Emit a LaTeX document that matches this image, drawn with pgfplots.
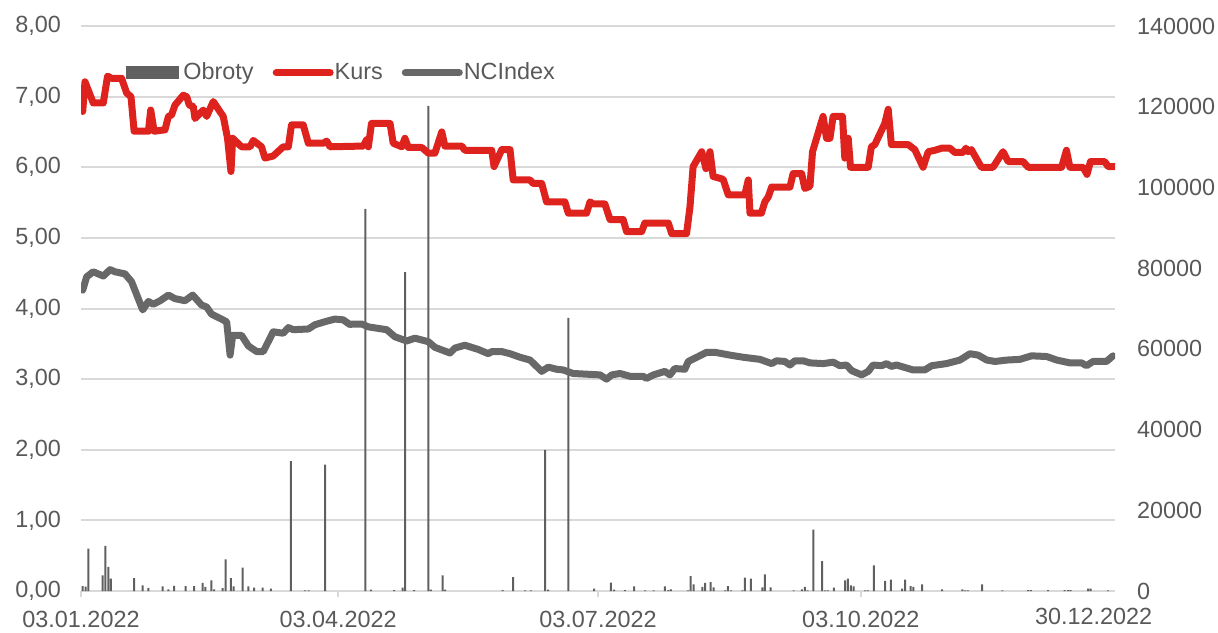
\documentclass[border=0pt]{standalone}
\usepackage{fontspec}
\setmainfont{Liberation Sans}
\usepackage{pgfplots}
\pgfplotsset{compat=1.18}
\usepackage{pgfplotstable}
\definecolor{kurs}{RGB}{222,34,30}
\definecolor{ncidx}{RGB}{104,104,104}
\definecolor{barc}{RGB}{96,96,96}
\definecolor{gridc}{RGB}{217,217,217}
\definecolor{txt}{RGB}{89,89,89}
\newcommand\lblfont{\fontsize{11.7}{14}\selectfont}

\pgfplotstableread{
d v
0.6 6.79
1.4 7.21
4.3 6.91
7.8 6.91
9.3 7.29
10.7 7.26
14.2 7.26
16.0 7.05
17.5 7.00
18.6 6.51
23.6 6.51
24.4 6.81
25.6 6.51
29.4 6.53
30.6 6.72
31.7 6.74
32.9 6.88
35.8 7.02
37.0 7.00
37.9 6.88
39.3 6.86
39.9 6.69
42.8 6.81
44.0 6.72
46.3 6.93
49.8 6.72
51.3 6.41
52.5 5.94
53.1 6.41
56.2 6.29
59.2 6.29
60.3 6.38
63.2 6.29
64.4 6.13
67.3 6.16
70.8 6.29
72.6 6.29
73.7 6.60
77.8 6.60
79.6 6.34
84.8 6.34
86.0 6.37
87.2 6.29
98.8 6.30
100.0 6.39
100.6 6.29
101.7 6.62
108.2 6.62
109.3 6.34
112.3 6.29
113.4 6.41
114.6 6.28
119.3 6.28
121.6 6.20
123.9 6.20
126.3 6.50
127.4 6.30
133.3 6.30
134.4 6.24
143.8 6.24
144.6 6.01
147.3 6.25
150.2 6.25
151.3 5.82
157.2 5.82
158.3 5.77
161.3 5.77
163.0 5.51
169.4 5.51
170.6 5.35
177.0 5.35
178.2 5.51
179.3 5.48
183.4 5.48
185.2 5.26
189.8 5.26
191.0 5.09
196.3 5.09
197.4 5.21
205.6 5.21
206.8 5.06
212.0 5.06
213.2 5.44
214.3 6.01
217.3 6.22
218.8 5.98
220.2 6.22
221.3 5.87
224.8 5.83
226.6 5.61
232.4 5.61
233.6 5.82
234.2 5.35
238.2 5.35
239.4 5.51
240.6 5.58
241.8 5.72
248.2 5.72
249.3 5.91
252.3 5.91
253.4 5.70
255.2 5.73
256.1 6.22
259.8 6.72
261.0 6.41
262.2 6.41
263.3 6.72
266.6 6.72
267.4 6.13
268.6 6.41
269.4 6.00
275.6 6.00
276.7 6.29
277.9 6.32
281.4 6.62
282.6 6.82
283.7 6.32
289.6 6.32
291.9 6.25
294.8 6.00
296.6 6.22
298.9 6.24
301.3 6.27
304.2 6.27
305.9 6.21
308.8 6.21
309.8 6.27
310.6 6.22
311.7 6.25
315.2 6.00
319.3 6.00
322.8 6.22
324.6 6.08
329.8 6.08
331.6 6.00
343.3 6.00
345.0 6.24
346.2 6.00
350.8 6.00
352.2 5.90
353.4 6.08
358.4 6.08
359.6 6.01
361.9 6.01
}\kursdata

\pgfplotstableread{
d v
0.6 4.26
2.0 4.45
4.3 4.52
7.8 4.46
10.2 4.55
11.9 4.52
15.4 4.49
17.7 4.38
21.6 3.98
23.6 4.10
25.3 4.06
27.7 4.11
30.6 4.19
32.9 4.14
36.4 4.11
39.1 4.19
42.2 4.05
44.0 4.02
45.7 3.92
49.2 3.85
51.0 3.81
52.2 3.34
53.1 3.62
56.2 3.62
58.6 3.47
61.5 3.39
63.8 3.39
67.3 3.67
70.8 3.65
72.6 3.73
74.3 3.70
79.6 3.71
81.9 3.77
86.0 3.82
88.9 3.85
91.8 3.84
94.2 3.77
94.8 3.78
98.3 3.78
100.6 3.74
107.0 3.70
109.9 3.60
114.0 3.54
116.9 3.58
121.6 3.53
123.9 3.45
129.2 3.37
130.9 3.44
134.4 3.48
139.1 3.42
142.6 3.36
143.8 3.39
147.3 3.39
150.2 3.36
153.7 3.31
157.2 3.27
161.3 3.11
163.6 3.17
166.5 3.14
168.8 3.13
172.3 3.08
177.0 3.07
181.7 3.06
184.0 3.00
185.8 3.06
188.7 3.08
192.2 3.04
196.8 3.04
198.0 3.01
200.4 3.06
204.4 3.11
206.2 3.06
207.9 3.15
211.4 3.14
212.6 3.25
216.1 3.32
219.0 3.38
221.9 3.38
227.2 3.34
231.8 3.31
237.7 3.28
241.8 3.22
243.5 3.26
246.4 3.25
248.2 3.20
249.9 3.26
252.8 3.26
255.2 3.23
259.8 3.22
263.3 3.24
265.7 3.19
268.0 3.20
269.8 3.12
273.3 3.06
275.6 3.11
277.3 3.20
280.3 3.19
282.0 3.22
283.7 3.18
285.5 3.20
291.3 3.13
295.4 3.13
297.8 3.19
303.0 3.22
307.7 3.27
311.2 3.36
314.1 3.34
317.1 3.27
320.0 3.25
324.1 3.27
328.7 3.28
332.8 3.33
338.1 3.32
341.6 3.27
346.2 3.23
350.3 3.23
352.0 3.19
354.3 3.25
359.0 3.25
361.3 3.33
}\ncidata

\pgfplotstableread{
d v
0.6 1200
1.6 1100
2.6 10500
7.6 3900
8.5 11200
9.6 5950
10.5 3060
18.6 3200
21.6 1400
23.6 750
28.6 1160
30.6 400
32.6 1300
36.6 1200
39.6 1200
42.6 2000
43.5 1000
45.6 2650
46.6 400
49.6 700
50.6 7850
52.5 3200
53.4 1150
56.6 5800
58.6 1150
60.6 830
63.6 830
66.5 580
73.5 32200
78.4 150
79.7 150
85.5 31300
99.6 94700
101.5 330
109.6 200
112.6 830
113.5 79000
116.6 200
121.6 120200
122.5 330
126.6 3900
127.5 330
147.6 200
151.3 3470
155.5 150
157.5 150
162.5 35000
163.5 330
170.6 67700
179.6 580
185.5 2070
186.6 330
190.4 200
193.6 1160
197.5 150
200.5 150
204.4 1160
205.6 200
206.5 420
212.5 150
213.4 3700
214.5 1650
217.5 1000
218.5 2000
220.4 2230
221.5 900
225.5 150
226.5 1240
227.5 150
231.5 150
232.4 3300
234.5 3060
238.5 900
239.4 4130
241.4 900
249.5 150
252.4 400
253.4 1000
254.4 150
256.4 15200
259.5 7430
260.5 150
261.5 150
263.6 830
267.5 2650
268.5 3060
269.5 1400
270.5 1160
274.5 150
275.5 150
277.6 6360
281.5 2480
283.5 2800
287.5 580
288.5 2800
290.4 1240
291.4 1000
294.5 1650
301.5 400
308.6 400
309.5 150
310.5 150
315.5 1650
322.6 150
331.6 200
332.5 200
338.6 200
344.4 200
345.6 200
346.5 200
352.6 580
353.5 580
359.6 150
}\obrdata

\begin{document}
\begin{tikzpicture}
\begin{axis}[
  set layers,
  at={(0,0)}, anchor=south west, scale only axis,
  width=517pt, height=282.5pt,
  xmin=0, xmax=362, ymin=0, ymax=140000,
  axis x line=none, axis y line*=right,
  y axis line style={draw=none},
  xtick=\empty,
  ytick={0,20000,40000,60000,80000,100000,120000,140000},
  ytick style={draw=none},
  scaled y ticks=false,
  yticklabel style={font=\lblfont, text=txt, xshift=7.5pt, /pgf/number format/.cd, fixed, precision=0, 1000 sep={}, assume math mode=true},
]
\addplot[ybar, bar width=1pt, fill=barc, draw=none] table[x=d, y=v] {\obrdata};
\end{axis}
\begin{axis}[
  set layers,
  at={(0,0)}, anchor=south west, scale only axis,
  width=517pt, height=282.5pt,
  xmin=0, xmax=362, ymin=0, ymax=8,
  axis x line*=bottom, axis y line*=left,
  y axis line style={draw=none},
  x axis line style={draw=gridc, line width=1pt, -},
  tick align=outside,
  major tick length=3pt,
  xtick={0,90,181,273},
  xticklabels={03.01.2022,03.04.2022,03.07.2022,03.10.2022},
  extra x ticks={354.5},
  extra x tick labels={30.12.2022},
  extra x tick style={major tick length=0pt, grid=none, xticklabel style={yshift=-1.5pt}},
  xtick style={draw=gridc, line width=1pt},
  ytick={0,1,2,3,4,5,6,7,8},
  ytick style={draw=none},
  ymajorgrids,
  grid style={draw=gridc, line width=1pt},
  xticklabel style={font=\lblfont, text=txt, yshift=-3.5pt},
  yticklabel style={font=\lblfont, text=txt, xshift=-3.5pt, /pgf/number format/.cd, fixed, fixed zerofill, precision=2, use comma, assume math mode=true},
  legend image code/.code={\draw[#1, line cap=round, overlay] (0pt,0pt) -- (27pt,0pt); \path[draw=none, fill=none] (-1.75pt,-3pt) rectangle (26.75pt,3pt);},
  legend style={at={(0.037,0.917)}, anchor=west, draw=none, fill=none,
    font=\lblfont, text=txt, legend columns=-1,
    nodes={inner xsep=2.5pt},
    /tikz/every even column/.append style={column sep=7pt}},
]
\addlegendimage{legend image code/.code={\fill[barc] (0pt,-3pt) rectangle (26pt,3pt);}}
\addlegendentry{Obroty}
\addplot[kurs, line width=3.5pt, line join=round, line cap=round] table[x=d, y=v] {\kursdata};
\addlegendentry{Kurs}
\addplot[ncidx, line width=3.5pt, line join=round, line cap=round] table[x=d, y=v] {\ncidata};
\addlegendentry{NCIndex}
\end{axis}
\pgfresetboundingbox
\useasboundingbox (-40.5pt,-20.5pt) rectangle (568.5pt,295.5pt);
\end{tikzpicture}
\end{document}
